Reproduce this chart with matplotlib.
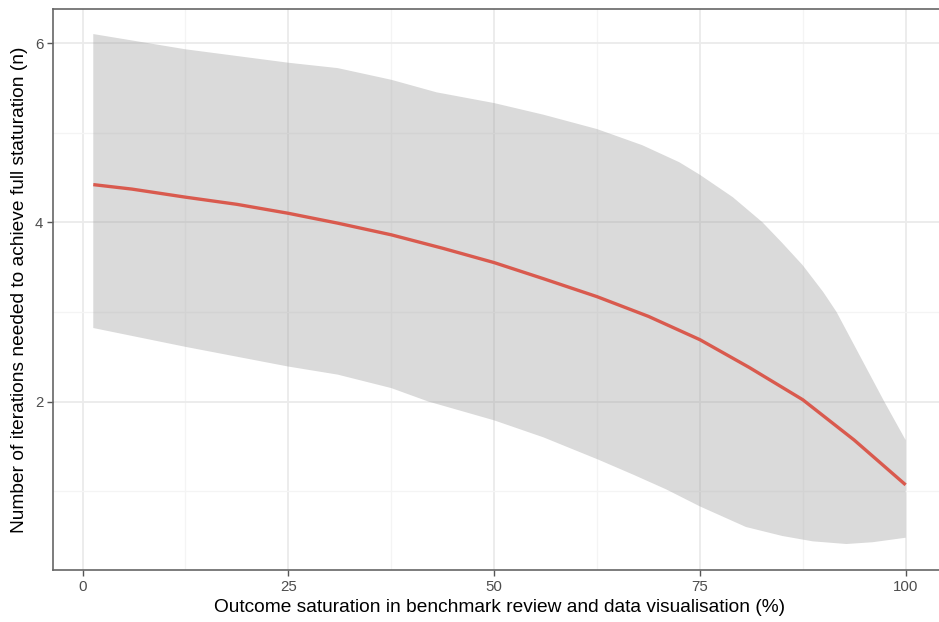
import matplotlib.pyplot as plt

# values
line_x = [1.3, 6, 12.5, 18.75, 25, 31, 37.5, 43.75, 50, 56, 62.5, 68.75, 75, 81, 87.5, 93.75, 100]
line_y = [4.42, 4.37, 4.28, 4.20, 4.10, 3.99, 3.86, 3.71, 3.55, 3.37, 3.17, 2.95, 2.69, 2.38, 2.02, 1.57, 1.07]

upper_x = [1.3, 12.5, 25, 31, 37.5, 43, 50, 56, 62.5, 68, 72.5, 75, 79, 82.6, 85, 87.5, 90, 91.6, 94.5, 97.4, 100]
upper_y = [6.10, 5.93, 5.78, 5.72, 5.59, 5.45, 5.33, 5.20, 5.04, 4.86, 4.67, 4.53, 4.28, 4.00, 3.77, 3.52, 3.22, 3.00, 2.50, 2.00, 1.57]

lower_x = [1.3, 12.5, 25, 31, 37.5, 42, 50, 56, 62.7, 67, 70.9, 75, 80.6, 85, 88.7, 92.8, 96, 100]
lower_y = [2.82, 2.61, 2.39, 2.30, 2.15, 2.00, 1.79, 1.60, 1.35, 1.18, 1.02, 0.83, 0.60, 0.50, 0.44, 0.41, 0.43, 0.48]

x_ticks = [0, 25, 50, 75, 100]
y_ticks = [2, 4, 6]

plt.rcParams['font.family'] = ['Liberation Sans', 'DejaVu Sans']

fig = plt.figure(figsize=(9.39, 6.22), dpi=100)
ax = fig.add_axes([0.0564, 0.0836, 0.951, 0.902])

# grid like theme_bw
ax.set_xticks([12.5, 37.5, 62.5, 87.5], minor=True)
ax.set_yticks([1, 3, 5], minor=True)
ax.grid(True, which='major', color='#EBEBEB', linewidth=1.3)
ax.grid(True, which='minor', color='#F4F4F4', linewidth=0.9)
ax.set_axisbelow(True)

# confidence ribbon: upper edge then lower edge reversed
poly_x = upper_x + lower_x[::-1]
poly_y = upper_y + lower_y[::-1]
ax.fill(poly_x, poly_y, color='#999999', alpha=0.36, linewidth=0, zorder=2)
ax.plot(line_x, line_y, color='#D95A4E', linewidth=2.4, zorder=3,
        solid_capstyle='butt')

ax.set_xlim(-3.6, 104.9)
ax.set_ylim(0.12, 6.38)
ax.set_xticks(x_ticks)
ax.set_yticks(y_ticks)
ax.tick_params(which='major', length=4, width=1, color='#555555',
               labelcolor='#4D4D4D', labelsize=10.8, pad=3)
ax.tick_params(which='minor', length=0)

for s in ax.spines.values():
    s.set_color('#666666')
    s.set_linewidth(1.2)
ax.spines['right'].set_visible(False)

ax.set_xlabel('Outcome saturation in benchmark review and data visualisation (%)',
              fontsize=13.8, labelpad=4)
ax.set_ylabel('Number of iterations needed to achieve full staturation (n)',
              fontsize=13.8, labelpad=5)

fig.savefig('out.png', dpi=100)
